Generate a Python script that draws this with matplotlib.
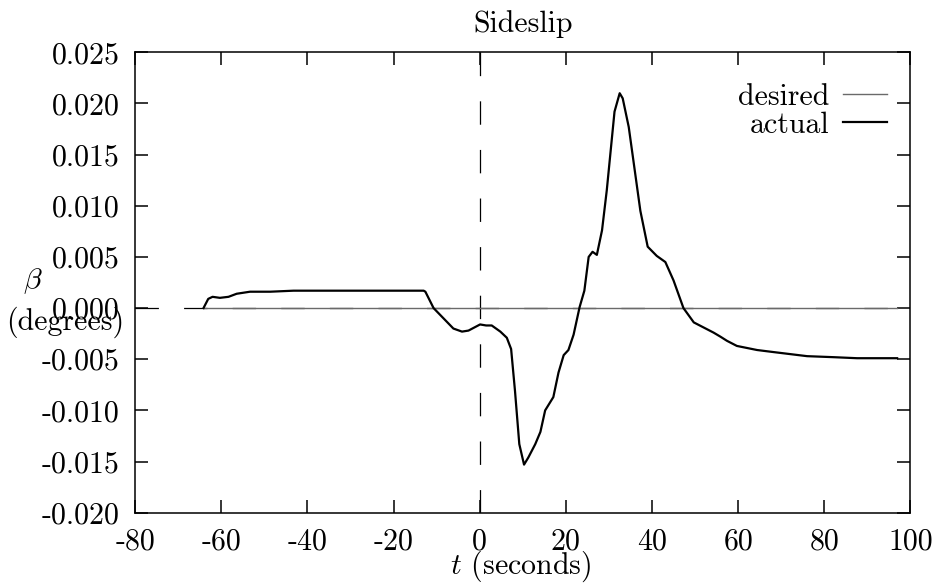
import matplotlib
matplotlib.use("Agg")
import matplotlib.pyplot as plt

plt.rcParams['font.family'] = ['cmr10', 'DejaVu Serif']
plt.rcParams['mathtext.fontset'] = 'cm'
plt.rcParams['axes.unicode_minus'] = False
plt.rcParams['axes.formatter.use_mathtext'] = True

# data
t_actual = [-64.1, -63.0, -62.0, -60.3, -58.3, -56.4, -53.3, -48.6, -43.2, -30.0,
            -13.0, -12.6, -10.7, -8.4, -6.1, -4.1, -2.6, 0.1, 1.5, 2.8, 4.8, 6.3,
            7.3, 8.2, 9.2, 10.3, 11.3, 12.9, 14.1, 15.2, 17.1, 18.3, 19.5, 20.6,
            21.8, 23.2, 24.3, 25.3, 26.2, 27.2, 28.4, 29.5, 31.3, 32.5, 33.2,
            34.6, 37.3, 39.0, 41.1, 43.1, 45.0, 47.3, 49.7, 52.0, 54.3, 55.9,
            57.4, 59.7, 64.4, 68.2, 72.1, 76.0, 82.2, 87.6, 96.9]
beta_actual = [0.0000, 0.0009, 0.0011, 0.0010, 0.0011, 0.0014, 0.0016, 0.0016, 0.0017, 0.0017,
               0.0017, 0.0016, 0.0000, -0.0010, -0.0020, -0.0023, -0.0022, -0.0016, -0.0017, -0.0017, -0.0023, -0.0029,
               -0.0040, -0.0081, -0.0133, -0.0153, -0.0146, -0.0133, -0.0121, -0.0100, -0.0087, -0.0063, -0.0046, -0.0041,
               -0.0026, 0.0001, 0.0017, 0.0050, 0.0055, 0.0052, 0.0076, 0.0115, 0.0192, 0.0210, 0.0205,
               0.0177, 0.0095, 0.0060, 0.0051, 0.0045, 0.0027, 0.0000, -0.0014, -0.0019, -0.0024, -0.0028,
               -0.0032, -0.0037, -0.0041, -0.0043, -0.0045, -0.0047, -0.0048, -0.0049, -0.0049]
t_desired = [-64.1, 96.9]
beta_desired = [0.0, 0.0]

xticks = [-80, -60, -40, -20, 0, 20, 40, 60, 80, 100]
xticklabels = ['-80', '-60', '-40', '-20', '0', '20', '40', '60', '80', '100']
yticks = [-0.020, -0.015, -0.010, -0.005, 0.000, 0.005, 0.010, 0.015, 0.020, 0.025]
yticklabels = ['-0.020', '-0.015', '-0.010', '-0.005', '0.000', '0.005', '0.010', '0.015', '0.020', '0.025']

FS = 21.5

fig = plt.figure(figsize=(9.4, 5.86), dpi=100)
ax = fig.add_axes([135/940, 1 - 512.7/586, (910.5-135)/940, (512.7-52.3)/586])

dash = (26/1.389, 28/1.389)
ax.axhline(0, color='black', lw=0.9, dashes=dash, zorder=1)
ax.axvline(0, color='black', lw=0.9, dashes=dash, zorder=1)

ax.plot(t_desired, beta_desired, color='#6a6a6a', lw=1.0, label='desired', zorder=2)
ax.plot(t_actual, beta_actual, color='black', lw=1.6, label='actual', zorder=3)

ax.set_xlim(-80, 100)
ax.set_ylim(-0.020, 0.025)
ax.set_xticks(xticks)
ax.set_xticklabels(xticklabels, fontsize=FS)
ax.set_yticks(yticks)
ax.set_yticklabels(yticklabels, fontsize=FS)
ax.tick_params(axis='both', direction='in', length=9.4, width=1.1,
               top=True, right=True)
ax.tick_params(axis='x', pad=11)
ax.tick_params(axis='y', pad=11)
for s in ax.spines.values():
    s.set_linewidth(1.1)

leg = ax.legend(loc='upper right', bbox_to_anchor=(0.9697, 0.9327),
                markerfirst=False, frameon=False, fontsize=FS,
                handlelength=1.47, handletextpad=0.47, labelspacing=0.02,
                borderaxespad=0.0, borderpad=0.0)

fig.text(523/940, 1 - 32/586, 'Sideslip', ha='center', va='baseline', fontsize=FS)
fig.text(521/940, 1 - 566.5/586, '$t$ (seconds)', ha='center', va='center', fontsize=FS)
fig.text(33/940, 1 - 281/586, r'$\beta$', ha='center', va='center', fontsize=FS)
fig.text(65/940, 1 - 322/586, '(degrees)', ha='center', va='center', fontsize=FS)

fig.savefig('out.png', dpi=100)
